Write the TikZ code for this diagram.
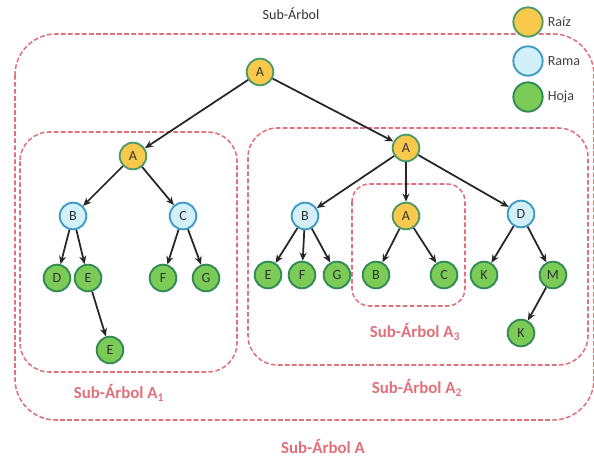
\documentclass[tikz,border=0pt]{standalone}
\usepackage{fontspec}
\setmainfont{Carlito}
\usetikzlibrary{arrows.meta}
\definecolor{raizfill}{HTML}{F8C94A}
\definecolor{ramafill}{HTML}{D3F0FA}
\definecolor{hojafill}{HTML}{7CCB57}
\definecolor{raizline}{HTML}{4C9A6A}
\definecolor{ramaline}{HTML}{3B9AC4}
\definecolor{hojaline}{HTML}{2F8A55}
\definecolor{subcol}{HTML}{E0707A}

\begin{document}
\begin{tikzpicture}[x=0.03cm, y=-0.03cm,
    nodo/.style={circle, line width=1.6pt, minimum size=0.8cm, inner sep=0pt, font=\large, text=black!80},
    raiz/.style={nodo, draw=raizline, fill=raizfill},
    rama/.style={nodo, draw=ramaline, fill=ramafill},
    hoja/.style={nodo, draw=hojaline, fill=hojafill},
    leyenda/.style={circle, line width=1.6pt, minimum size=0.88cm, inner sep=0pt},
    edge/.style={-{Stealth[length=7pt,width=6pt]}, line width=1.5pt, black!85},
    caja/.style={draw=subcol, dash pattern=on 4pt off 2pt, line width=1.3pt},
    etiq/.style={text=subcol, font=\Large\bfseries}]
    \useasboundingbox (0,0) rectangle (594,458);

    % cajas de los sub-arboles
    \draw[caja, rounded corners=35] (15,34) rectangle (594,420);
    \draw[caja, rounded corners=25] (20,132) rectangle (237,372);
    \draw[caja, rounded corners=25] (248,128) rectangle (588,365);
    \draw[caja, rounded corners=15] (352,184) rectangle (465,306);

    % leyenda
    \node[font=\large, text=black!80] (titulo) at (291,14) {Sub-Árbol};
    \node[leyenda, draw=raizline, fill=raizfill] (lraiz) at (528,22) {};
    \node[leyenda, draw=ramaline, fill=ramafill] (lrama) at (528,61) {};
    \node[leyenda, draw=hojaline, fill=hojafill] (lhoja) at (528,97) {};
    \node[anchor=west, font=\large, text=black!75] (traiz) at (lraiz.east) {Raíz};
    \node[anchor=west, font=\large, text=black!75] (trama) at (lrama.east) {Rama};
    \node[anchor=west, font=\large, text=black!75] (thoja) at (lhoja.east) {Hoja};

    % arbol
    \node[raiz] (r) at (260,72) {A};
    \node[raiz] (a1) at (133,156) {A};
    \node[raiz] (a2) at (406,148) {A};

    \node[rama] (b1) at (73,216) {B};
    \node[rama] (c1) at (183,216) {C};
    \node[hoja] (d1) at (57,278) {D};
    \node[hoja] (e1) at (88,278) {E};
    \node[hoja] (f1) at (163,278) {F};
    \node[hoja] (g1) at (206,278) {G};
    \node[hoja] (e3) at (110,350) {E};

    \node[rama] (b2) at (305,216) {B};
    \node[raiz] (a3) at (406,216) {A};
    \node[rama] (d2) at (521,214) {D};
    \node[hoja] (e2) at (268,275) {E};
    \node[hoja] (f2) at (302,275) {F};
    \node[hoja] (g2) at (337,275) {G};
    \node[hoja] (b3) at (376,275) {B};
    \node[hoja] (c3) at (444,275) {C};
    \node[hoja] (k1) at (484,275) {K};
    \node[hoja] (m1) at (553,275) {M};
    \node[hoja] (k2) at (521,333) {K};

    \draw[edge] (r) -- (a1);
    \draw[edge] (r) -- (a2);
    \draw[edge] (a1) -- (b1);
    \draw[edge] (a1) -- (c1);
    \draw[edge] (b1) -- (d1);
    \draw[edge] (b1) -- (e1);
    \draw[edge] (c1) -- (f1);
    \draw[edge] (c1) -- (g1);
    \draw[edge] (e1) -- (e3);
    \draw[edge] (a2) -- (b2);
    \draw[edge] (a2) -- (a3);
    \draw[edge] (a2) -- (d2);
    \draw[edge] (b2) -- (e2);
    \draw[edge] (b2) -- (f2);
    \draw[edge] (b2) -- (g2);
    \draw[edge] (a3) -- (b3);
    \draw[edge] (a3) -- (c3);
    \draw[edge] (d2) -- (k1);
    \draw[edge] (d2) -- (m1);
    \draw[edge] (m1) -- (k2);

    % nombres
    \node[etiq] (sa1) at (119,393) {Sub-Árbol A\textsubscript{1}};
    \node[etiq] (sa3) at (415,332) {Sub-Árbol A\textsubscript{3}};
    \node[etiq] (sa2) at (417,388) {Sub-Árbol A\textsubscript{2}};
    \node[etiq] (sa) at (323,446) {Sub-Árbol A};
  \end{tikzpicture}
\end{document}
